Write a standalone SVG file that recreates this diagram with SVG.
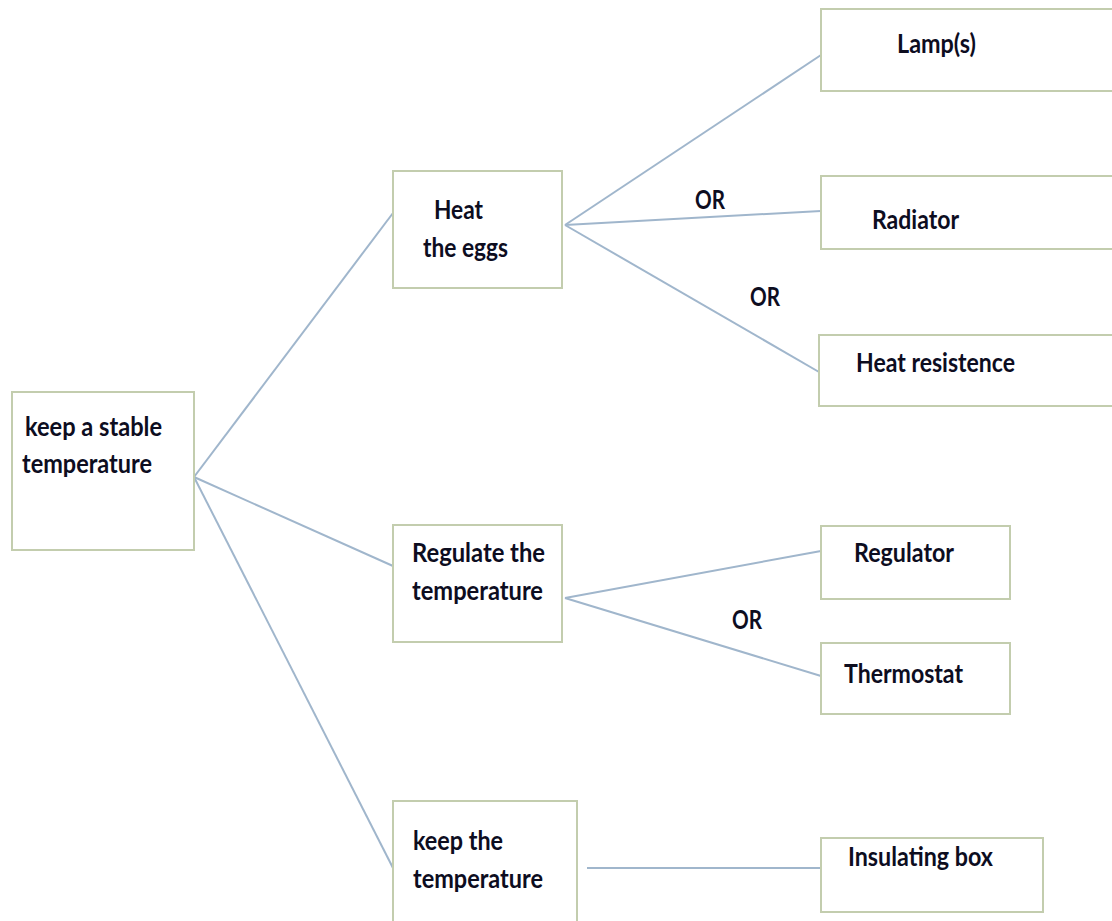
<svg xmlns="http://www.w3.org/2000/svg" width="1112" height="921" viewBox="0 0 1112 921">
<style>
.box{fill:#ffffff;stroke:#c3cdae;stroke-width:2}
.t{font-family:Lato,"Open Sans","Liberation Sans",sans-serif;font-weight:bold;font-size:27px;fill:#0d0d1f}
.c{stroke:#a0b6cc;stroke-width:2;fill:none}
</style>
<rect width="1112" height="921" fill="#ffffff"/>
<g id="connectors">
<line class="c" x1="194" y1="477" x2="393" y2="213"/>
<line class="c" x1="194" y1="477" x2="393" y2="566"/>
<line class="c" x1="194" y1="477" x2="393" y2="868"/>
<line class="c" x1="565" y1="225" x2="821" y2="55"/>
<line class="c" x1="565" y1="225" x2="821" y2="211"/>
<line class="c" x1="565" y1="225" x2="819" y2="372"/>
<line class="c" x1="565" y1="598" x2="821" y2="551"/>
<line class="c" x1="565" y1="598" x2="821" y2="676"/>
<line class="c" x1="587" y1="868" x2="821" y2="868"/>
<text class="t" x="695" y="209" textLength="30" lengthAdjust="spacingAndGlyphs">OR</text>
<text class="t" x="750" y="306" textLength="30" lengthAdjust="spacingAndGlyphs">OR</text>
<text class="t" x="732" y="629" textLength="30" lengthAdjust="spacingAndGlyphs">OR</text>
</g>
<g id="root">
<rect class="box" x="12" y="392" width="182" height="158"/>
<text class="t" x="25" y="436" textLength="137" lengthAdjust="spacingAndGlyphs">keep a stable</text>
<text class="t" x="22" y="473" textLength="130" lengthAdjust="spacingAndGlyphs">temperature</text>
</g>
<g id="heat">
<rect class="box" x="393" y="171" width="169" height="117"/>
<text class="t" x="434" y="219" textLength="49" lengthAdjust="spacingAndGlyphs">Heat</text>
<text class="t" x="423" y="257" textLength="85" lengthAdjust="spacingAndGlyphs">the eggs</text>
</g>
<g id="regulate">
<rect class="box" x="393" y="525" width="169" height="117"/>
<text class="t" x="412" y="562" textLength="133" lengthAdjust="spacingAndGlyphs">Regulate the</text>
<text class="t" x="412" y="600" textLength="131" lengthAdjust="spacingAndGlyphs">temperature</text>
</g>
<g id="keep">
<rect class="box" x="393" y="801" width="184" height="130"/>
<text class="t" x="413" y="850" textLength="90" lengthAdjust="spacingAndGlyphs">keep the</text>
<text class="t" x="413" y="888" textLength="130" lengthAdjust="spacingAndGlyphs">temperature</text>
</g>
<g id="lamp">
<rect class="box" x="821" y="9" width="300" height="82"/>
<text class="t" x="897" y="53" textLength="79" lengthAdjust="spacingAndGlyphs">Lamp(s)</text>
</g>
<g id="radiator">
<rect class="box" x="821" y="176" width="300" height="73"/>
<text class="t" x="872" y="229" textLength="87" lengthAdjust="spacingAndGlyphs">Radiator</text>
</g>
<g id="resistence">
<rect class="box" x="819" y="335" width="302" height="71"/>
<text class="t" x="856" y="372" textLength="159" lengthAdjust="spacingAndGlyphs">Heat resistence</text>
</g>
<g id="regulator">
<rect class="box" x="821" y="526" width="189" height="73"/>
<text class="t" x="854" y="562" textLength="100" lengthAdjust="spacingAndGlyphs">Regulator</text>
</g>
<g id="thermostat">
<rect class="box" x="821" y="643" width="189" height="71"/>
<text class="t" x="844" y="683" textLength="119" lengthAdjust="spacingAndGlyphs">Thermostat</text>
</g>
<g id="insulating">
<rect class="box" x="821" y="838" width="222" height="74"/>
<text class="t" x="848" y="866" textLength="145" lengthAdjust="spacingAndGlyphs">Insulating box</text>
</g>
</svg>
